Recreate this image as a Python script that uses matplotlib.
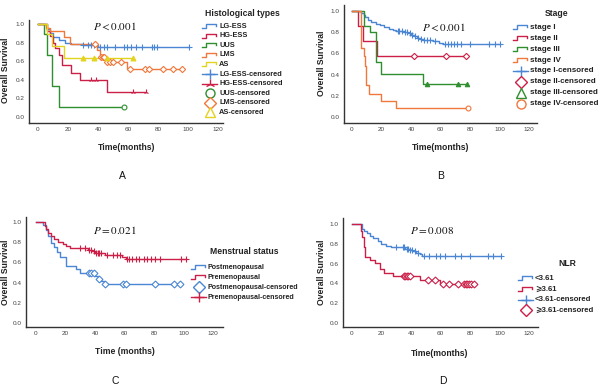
import numpy as np
import matplotlib
matplotlib.use('Agg')
import matplotlib.pyplot as plt

plt.rcParams['font.family'] = ['Liberation Sans', 'DejaVu Sans']
plt.rcParams['mathtext.fontset'] = 'stix'

# colours used by the SPSS style output
BLUE = '#4a86d4'
RED = '#cc1f48'
GREEN = '#2f8f2f'
ORANGE = '#f0783c'
YELLOW = '#e3d21e'

# ---- panel A : histological types ----
lg_ess_t = [6, 8, 10, 14, 18, 22, 30, 40]
lg_ess_s = [0.95, 0.90, 0.86, 0.83, 0.80, 0.78, 0.77, 0.75]
lg_ess_c = [30, 33, 35, 37, 41, 44, 46, 51, 57, 59, 62, 65, 69, 76, 77, 79, 100.5]

hg_ess_t = [6, 8, 10, 11, 14, 16, 22, 28, 46]
hg_ess_s = [0.93, 0.87, 0.80, 0.74, 0.67, 0.56, 0.47, 0.40, 0.27]
hg_ess_c = [35, 38.5, 63, 72]

uus_t = [4, 6, 9, 14]
uus_s = [0.89, 0.67, 0.33, 0.11]
uus_c = [57]

lms_t = [5, 8, 17, 21, 39, 41, 45, 59]
lms_s = [0.96, 0.92, 0.86, 0.78, 0.72, 0.65, 0.59, 0.52]
lms_c = [38, 42, 43, 44, 46, 48, 50, 55, 61, 71, 74, 83, 90, 96]

as_t = [6, 9, 17]
as_s = [0.89, 0.76, 0.63]
as_c = [30, 37.5, 46, 63.5]

# ---- panel B : stage ----
st1_t = [6, 8, 9, 11, 13, 16, 19, 22, 25, 28, 30, 35, 38, 40, 42, 44, 46, 48, 55, 59, 62]
st1_s = [0.98, 0.96, 0.94, 0.92, 0.90, 0.88, 0.87, 0.85, 0.83, 0.82, 0.81, 0.80, 0.79,
         0.77, 0.76, 0.75, 0.74, 0.73, 0.72, 0.70, 0.69]
st1_c = [31, 32, 34, 36, 37, 39, 41, 43, 45, 47, 49, 51, 53, 56, 63, 65, 67, 69, 71,
         74, 80, 93, 97, 100.5]

st2_t = [4, 7.5, 17]
st2_s = [0.857, 0.714, 0.571]
st2_c = [42, 63.5, 77.5]

st3_t = [8, 12, 16.5, 20, 48]
st3_s = [0.86, 0.80, 0.52, 0.41, 0.31]
st3_c = [51, 72, 78]

st4_t = [6, 8, 8.6, 9.7, 11.5, 20, 30]
st4_s = [0.65, 0.58, 0.48, 0.30, 0.22, 0.15, 0.08]
st4_c = [78.5]

# ---- panel C : menstrual status ----
post_t = [5, 7, 8, 10, 12, 14, 16, 20, 27, 30, 40, 42, 44, 46]
post_s = [0.97, 0.92, 0.86, 0.79, 0.75, 0.70, 0.65, 0.56, 0.53, 0.50, 0.47, 0.44, 0.42, 0.39]
post_c = [36, 37.5, 39, 43, 47, 59, 61, 81, 93.5, 97.5]

pre_t = [6, 7, 8, 10, 12, 15, 18, 20, 23, 35, 38, 40, 47, 58, 61]
pre_s = [0.96, 0.93, 0.89, 0.86, 0.83, 0.80, 0.78, 0.76, 0.74, 0.72, 0.71, 0.69, 0.67, 0.655, 0.635]
pre_c = [30, 33, 36, 37, 39, 41, 42, 43, 44, 48, 52, 55, 57, 62, 63, 65, 68, 70, 73,
         75, 78, 81, 84, 98, 102]

# ---- panel D : NLR ----
nlr_lo_t = [7, 8, 10, 12, 14, 17.5, 20, 23, 26.5, 36, 39, 41, 43.5, 46, 47.7]
nlr_lo_s = [0.95, 0.93, 0.91, 0.88, 0.86, 0.83, 0.80, 0.78, 0.765, 0.75, 0.74, 0.725,
            0.71, 0.70, 0.68]
nlr_lo_c = [30, 34.5, 35.5, 37, 38, 39.5, 40.5, 42.5, 45, 49, 52.5, 57, 59.5, 63, 69.5,
            74, 80, 92, 95.5, 101]

nlr_hi_t = [6, 7, 8, 9, 12, 15.5, 19, 22, 28, 46, 59.5]
nlr_hi_s = [0.93, 0.87, 0.77, 0.67, 0.64, 0.61, 0.55, 0.50, 0.47, 0.43, 0.39]
nlr_hi_c = [35, 36, 37, 38, 39, 51.5, 56, 62, 66, 72, 76, 77, 78, 79, 81, 83]

xticks = [0, 20, 40, 60, 80, 100, 120]
yticks = [0.0, 0.2, 0.4, 0.6, 0.8, 1.0]


def surv_at(times, surv, t):
    idx = np.searchsorted(times, t, side='right')
    return 1.0 if idx == 0 else surv[idx - 1]


def draw_km(ax, times, surv, cens, color, marker, ms, mfc):
    end = max(times + cens)
    x = [0] + times + [end]
    y = [1.0] + surv + [surv[-1]]
    ax.step(x, y, where='post', color=color, lw=1.0, zorder=3)
    cy = [surv_at(times, surv, c) for c in cens]
    ax.plot(cens, cy, ls='none', marker=marker, ms=ms, mfc=mfc, mec=color, mew=0.8,
            color=color, zorder=4)


def style_axes(ax):
    for s in ['top', 'right']:
        ax.spines[s].set_visible(False)
    for s in ['left', 'bottom']:
        ax.spines[s].set_color('#333333')
        ax.spines[s].set_linewidth(1.0)
    ax.set_xticks(xticks)
    ax.set_yticks(yticks)
    ax.set_yticklabels(['%.1f' % v for v in yticks])
    ax.tick_params(length=0, labelsize=4.6, colors='#444444', pad=3)
    ax.set_facecolor('none')


fig = plt.figure(figsize=(6, 3.87), dpi=100)

# axes placed from pixel positions of the reference
def px_axes(left, top, right, bottom, xl, yl):
    ax = fig.add_axes([left / 600, 1 - bottom / 387, (right - left) / 600, (bottom - top) / 387])
    ax.set_xlim(*xl)
    ax.set_ylim(*yl)
    style_axes(ax)
    return ax

axA = px_axes(29, 20, 223, 123, (-6, 123.3), (-0.065, 1.043))
axB = px_axes(344, 5, 537, 123, (-5.4, 125.4), (-0.057, 1.057))
axC = px_axes(26, 217, 223, 327, (-6.8, 126.8), (-0.04, 1.05))
axD = px_axes(343, 218, 538, 327, (-6.1, 126.1), (-0.04, 1.06))

seriesA = [
    ('LG-ESS', lg_ess_t, lg_ess_s, lg_ess_c, BLUE, '+', 4, BLUE),
    ('HG-ESS', hg_ess_t, hg_ess_s, hg_ess_c, RED, '2', 4, RED),
    ('UUS', uus_t, uus_s, uus_c, GREEN, 'o', 3.5, 'white'),
    ('LMS', lms_t, lms_s, lms_c, ORANGE, 'D', 3.2, 'white'),
    ('AS', as_t, as_s, as_c, YELLOW, '^', 3.5, YELLOW),
]
seriesB = [
    ('stage I', st1_t, st1_s, st1_c, BLUE, '+', 4, BLUE),
    ('stage II', st2_t, st2_s, st2_c, RED, 'D', 3.2, 'white'),
    ('stage III', st3_t, st3_s, st3_c, GREEN, '^', 3.2, GREEN),
    ('stage IV', st4_t, st4_s, st4_c, ORANGE, 'o', 3.5, 'white'),
]
seriesC = [
    ('Postmenopausal', post_t, post_s, post_c, BLUE, 'D', 3.5, 'white'),
    ('Premenopausal', pre_t, pre_s, pre_c, RED, '+', 4, RED),
]
seriesD = [
    ('<3.61', nlr_lo_t, nlr_lo_s, nlr_lo_c, BLUE, '+', 4, BLUE),
    ('\u2a7e3.61', nlr_hi_t, nlr_hi_s, nlr_hi_c, RED, 'D', 3.5, 'white'),
]

for ax, series in [(axA, seriesA), (axB, seriesB), (axC, seriesC), (axD, seriesD)]:
    for name, t, s, c, col, mk, ms, mfc in series:
        draw_km(ax, t, s, c, col, mk, ms, mfc)

# overlay in pixel coordinates for texts and legends
ov = fig.add_axes([0, 0, 1, 1])
ov.set_xlim(0, 600)
ov.set_ylim(387, 0)
ov.axis('off')
ov.patch.set_alpha(0)

lab = dict(fontweight='bold', color='#222222', fontsize=6.2)

def panel_text(xlabel, xl_pos, yl_pos, ptext, p_pos, letter, let_pos):
    ov.text(xl_pos[0], xl_pos[1], xlabel, ha='center', va='center', **lab)
    ov.text(yl_pos[0], yl_pos[1], 'Overall Survival', rotation=90, ha='center', va='center', **lab)
    ov.text(p_pos[0], p_pos[1], ptext, ha='left', va='center', fontsize=8, color='#111111')
    ov.text(let_pos[0], let_pos[1], letter, ha='center', va='center', fontsize=7.5, color='#111111')

panel_text('Time(months)', (127, 147), (6, 70), r'$P < 0.001$', (93, 26), 'A', (122, 176))
panel_text('Time(months)', (441, 147), (321, 63), r'$P < 0.001$', (422, 27), 'B', (441, 176))
panel_text('Time (months)', (125, 351), (6, 272), r'$P = 0.021$', (93, 230), 'C', (115, 381))
panel_text('Time(months)', (440, 353), (321, 272), r'$P = 0.008$', (410, 230), 'D', (443, 381))


def draw_legend(series, title, title_xy, x0, y0, dy, fs, tfs):
    ov.text(title_xy[0], title_xy[1], title, ha='left', va='center', fontweight='bold',
            fontsize=tfs, color='#222222')
    x1 = x0 + 15
    rows = []
    for name, t, s, c, col, mk, ms, mfc in series:
        rows.append(('line', name, col, mk, mfc))
    for name, t, s, c, col, mk, ms, mfc in series:
        rows.append(('cens', name + '-censored', col, mk, mfc))
    for i, (kind, name, col, mk, mfc) in enumerate(rows):
        y = y0 + i * dy
        if kind == 'line':
            ov.plot([x0, x0 + 4, x0 + 4, x1 - 1, x1 - 1], [y + 2, y + 2, y - 2, y - 2, y],
                    color=col, lw=1.0)
        else:
            if mk in ('+', '2'):
                ov.plot([x0, x1], [y, y], color=col, lw=1.0)
                ov.plot([(x0 + x1) / 2], [y], marker=mk, ms=7, mew=1.0, color=col)
            else:
                ov.plot([(x0 + x1) / 2], [y], marker=mk, ms=6 if mk == 'D' else 6.5,
                        mfc='white', mec=col, mew=1.0, ls='none')
        ov.text(x1 + 2, y, name, ha='left', va='center', fontweight='bold', fontsize=fs,
                color='#222222', family=['Liberation Sans', 'DejaVu Sans'])

draw_legend(seriesA, 'Histological types', (205, 13), 202, 26, 9.6, 5.3, 6.2)
draw_legend(seriesB, 'Stage', (545, 13), 513, 27.3, 10.9, 5.8, 6.2)
draw_legend(seriesC, 'Menstrual status', (210, 252), 191, 267.3, 10, 5.1, 6.2)
draw_legend(seriesD, 'NLR', (558, 263), 518, 278.3, 10.6, 5.6, 6.2)

fig.savefig('out.png', dpi=100)
